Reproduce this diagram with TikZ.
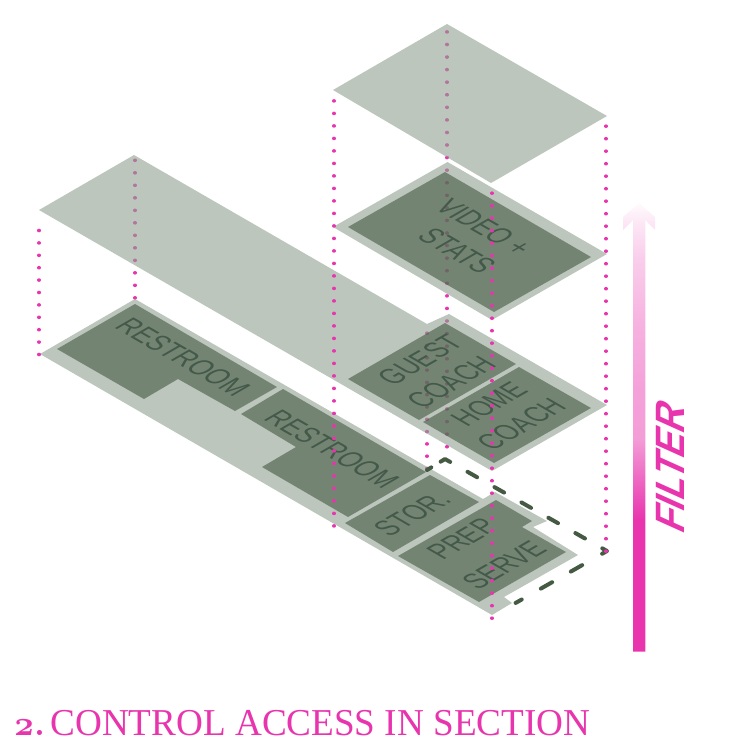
\documentclass[tikz,border=0pt]{standalone}
\usepackage{fontspec}
\setmainfont{Liberation Sans}
\newfontfamily\ttlfont{Liberation Serif}
\newfontfamily\numfont[Numbers=OldStyle]{Latin Modern Roman}
\definecolor{pinkc}{HTML}{E835AE}
\definecolor{lightbase}{HTML}{8FA091}
\definecolor{greenbase}{HTML}{445A42}
\definecolor{labelc}{HTML}{43594A}
\pgfdeclareverticalshading{filtershade}{100bp}{color(0bp)=(pinkc); color(25bp)=(pinkc); color(39.7bp)=(pinkc); color(48.9bp)=(pinkc!48!white); color(54bp)=(pinkc!47!white); color(61.6bp)=(pinkc!38!white); color(69bp)=(pinkc!24!white); color(72.8bp)=(pinkc!12!white); color(75bp)=(pinkc!2!white); color(100bp)=(white)}
\newcommand{\downlabel}[4]{\begin{scope}[shift={(#2,#3)},cm={.673,-.388,.866,.5,(0,0)}]\node[planlabel,transform shape] (#1) at (0,0) {#4};\end{scope}}
\newcommand{\uplabel}[4]{\begin{scope}[shift={(#2,#3)},cm={.673,.388,-.866,.5,(0,0)}]\node[planlabel,transform shape] (#1) at (0,0) {#4};\end{scope}}
\tikzset{
  floorpoly/.style={fill=lightbase,fill opacity=.6,draw=none},
  roompoly/.style={fill=greenbase,fill opacity=.6,draw=none},
  planlabel/.style={inner sep=0pt,text=labelc,font=\fontsize{31}{33}\selectfont},
  dotline/.style={draw=pinkc,line width=3.2pt,line cap=round},
  boundary/.style={draw=greenbase,line width=4pt,line cap=round,line join=round}
}
\begin{document}
\begin{tikzpicture}[x=1pt,y=-1pt]
\useasboundingbox (0,0) rectangle (751,750);
% dotted lines under the sheets
\coordinate (a1) at (447,31.7); \coordinate (a2) at (447,447);
\coordinate (b1) at (135,298); \coordinate (b2) at (135,160);
\coordinate (c1) at (427,333); \coordinate (c2) at (427,468.5);
\draw[dotline,dash pattern=on .4pt off 12.17pt] (a1) -- (a2);
\draw[dotline,dash pattern=on .4pt off 12.1pt] (b1) -- (b2);
\draw[dotline,dash pattern=on .4pt off 11.9pt] (c1) -- (c2);
% sheets
\fill[floorpoly] (447,24) -- (607,116) -- (491,183) -- (333,90) -- cycle;
\fill[floorpoly] (447.5,162) -- (607,254) -- (492,320) -- (333,227) -- cycle;
\fill[floorpoly] (134,155) -- (427,324) -- (449,314) -- (607,405) -- (492,471) -- (39,210) -- cycle;
\fill[floorpoly] (135,299) -- (483,499) -- (495,492) -- (547,521) -- (533,527) -- (578,555) -- (504,597) -- (512,603) -- (492,615) -- (40,354) -- cycle;
% rooms
\fill[roompoly] (445,172) -- (591,257) -- (494,312) -- (348,227) -- cycle;
\fill[roompoly] (445,323) -- (516,364) -- (419,420) -- (348,379) -- cycle;
\fill[roompoly] (519,367) -- (591,408) -- (494,463) -- (423,422) -- cycle;
\fill[roompoly] (135,304) -- (277,387) -- (235,411) -- (178,379) -- (144,399) -- (57,349) -- cycle;
\fill[roompoly] (283,389) -- (426,472) -- (348,517) -- (262,467) -- (296,447) -- (241,414) -- cycle;
\fill[roompoly] (430,475) -- (479,502) -- (393,552) -- (345,523) -- cycle;
\fill[roompoly] (496,500) -- (532,521) -- (522,527) -- (566,552) -- (479,602) -- (398,556) -- cycle;
% labels
\downlabel{t1}{183}{357}{RESTROOM}
\downlabel{t2}{332}{449}{RESTROOM}
\downlabel{t3}{484}{227}{VIDEO +}
\downlabel{t4}{457}{251}{STATS}
\uplabel{t5}{420}{360}{GUEST}
\uplabel{t6}{451}{382}{COACH}
\uplabel{t7}{489}{404}{HOME}
\uplabel{t8}{521}{424}{COACH}
\uplabel{t9}{412}{514}{STOR.}
\uplabel{t10}{462}{539}{PREP}
\uplabel{t11}{504}{565}{SERVE}
% dashed boundary
\coordinate (d1) at (427,470); \coordinate (d2) at (445,459); \coordinate (d3) at (607,551); \coordinate (d4) at (512,605);
\draw[boundary,dash pattern=on 5pt off 11pt on 11pt off 20pt on 11pt off 20pt on 11pt off 20pt on 11pt off 20pt on 11pt off 20pt on 11pt off 20pt on 11pt off 23pt on 13pt off 21.5pt on 13pt off 22pt on 7pt off 200pt] (d1) -- (d2) -- (d3) -- (d4);
% dotted lines over the sheets
\coordinate (e1) at (39,354.7); \coordinate (e2) at (39,229);
\coordinate (f1) at (334,100.7); \coordinate (f2) at (334,526.5);
\coordinate (g1) at (606,126); \coordinate (g2) at (606,551.5);
\coordinate (h1) at (492,193); \coordinate (h2) at (492,618.5);
\draw[dotline,dash pattern=on .4pt off 12pt] (e1) -- (e2);
\draw[dotline,dash pattern=on .4pt off 12.1pt] (f1) -- (f2);
\draw[dotline,dash pattern=on .4pt off 12.1pt] (g1) -- (g2);
\draw[dotline,dash pattern=on .4pt off 12.1pt] (h1) -- (h2);
% filter arrow
\shade[shading=filtershade] (639,203) -- (655,217) -- (655,230) -- (645.3,220) -- (645.3,651.7) -- (633,651.7) -- (633,220) -- (623,230) -- (623,217) -- cycle;
\begin{scope}[shift={(670,466)},cm={0,.9,-1,.45,(0,0)}]
\node[inner sep=0pt,text=pinkc,font=\fontsize{41}{44}\selectfont\bfseries,transform shape] (filter) at (0,0) {FILTER};
\end{scope}
% title
\node[anchor=base west,inner sep=0pt,text=pinkc,font=\fontsize{38}{40}\selectfont] (title) at (13,735) {{\fontsize{35}{38}\selectfont\numfont\bfseries 2.}\hspace{.12em}\scalebox{.978}[1]{\ttlfont CONTROL ACCESS IN SECTION}};
\end{tikzpicture}
\end{document}
